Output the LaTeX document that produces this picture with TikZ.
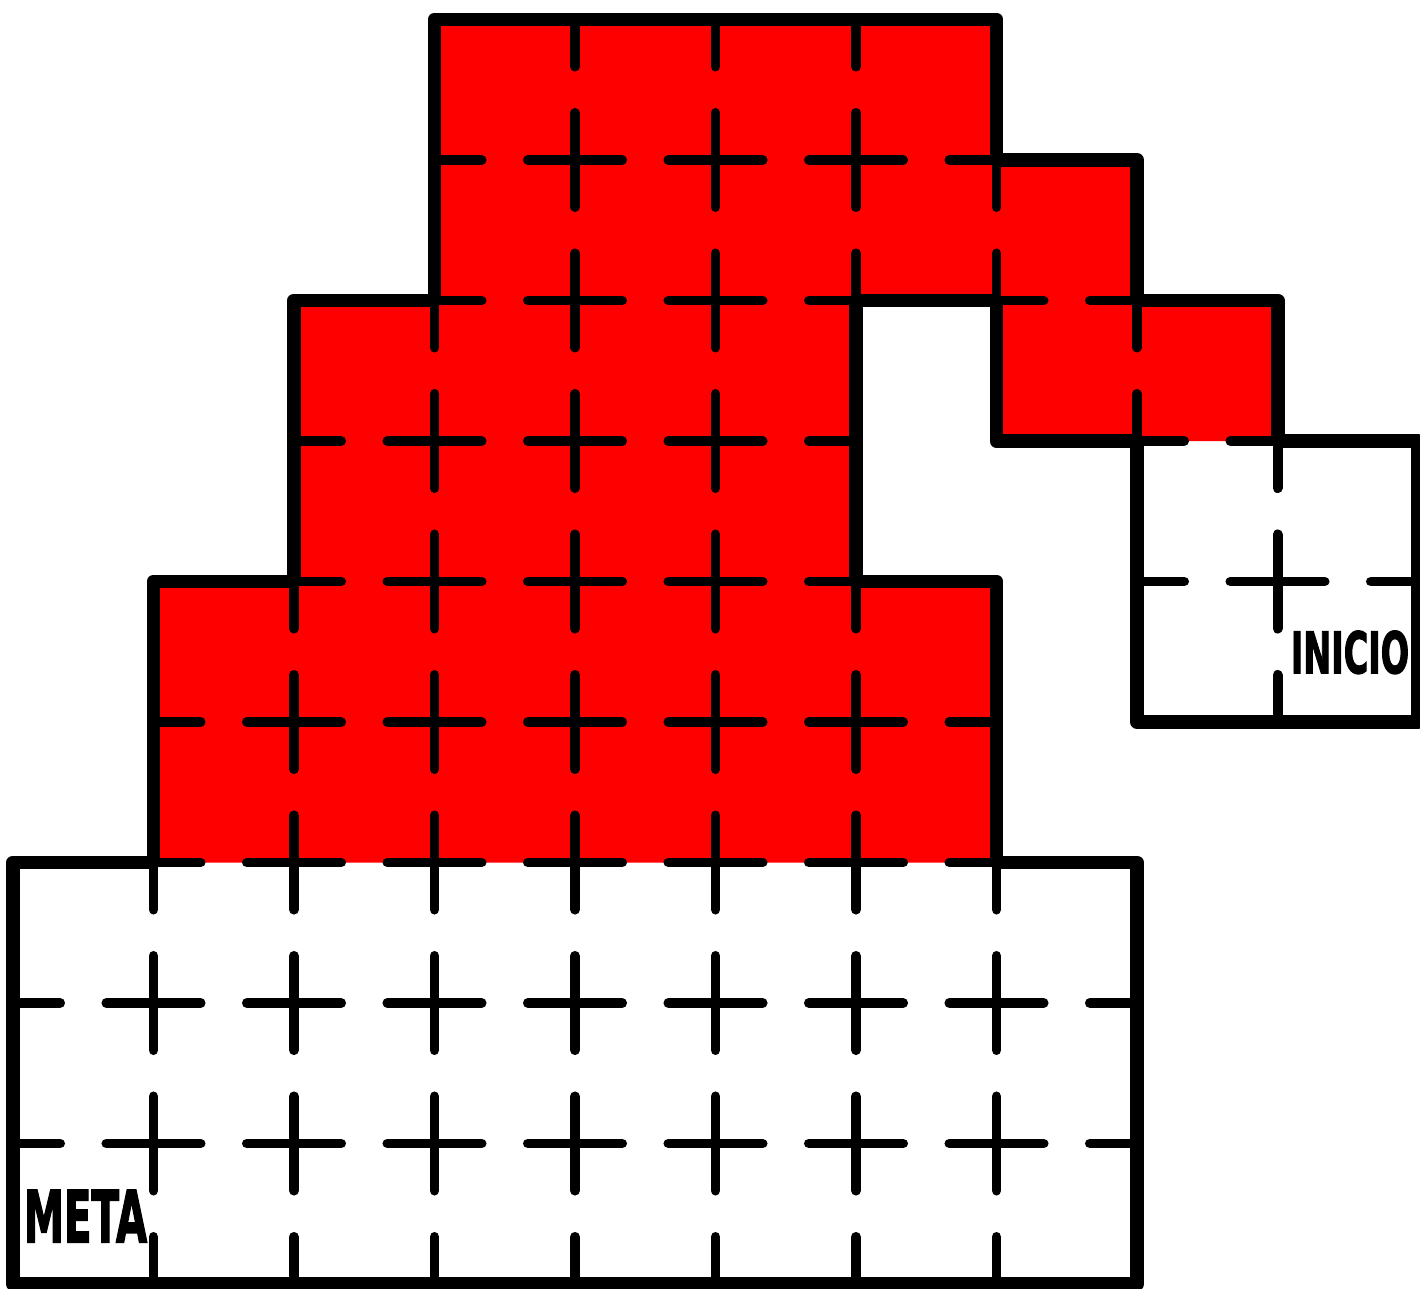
\documentclass[tikz,border=0pt]{standalone}
\usepackage{graphicx}
\usepackage{fontspec}
\newfontface\labfont{DejaVu Sans Bold}[FakeBold=2.5]
\begin{document}
\begin{tikzpicture}[x=1cm,y=-1cm,
  gridln/.style={line width=2.02pt,line cap=round},
  border/.style={line width=2.83pt,line join=round,line cap=round},
  lab/.style={inner sep=0pt,outer sep=0pt}]
\useasboundingbox (-0.0925,-0.1388) rectangle (10.0142,9.0356);
\fill[red] (3,0) -- (7,0) -- (7,1) -- (8,1) -- (8,2) -- (9,2) -- (9,3) -- (7,3) -- (7,2) -- (6,2) -- (6,4) -- (7,4) -- (7,6) -- (1,6) -- (1,4) -- (2,4) -- (2,2) -- (3,2) -- cycle;
\def\a{0.335}
\foreach \y/\xs in {0/{4,5,6},1/{4,5,6,7},2/{3,4,5,8},3/{3,4,5,9},4/{2,3,4,5,6,9},5/{2,3,4,5,6},6/{1,...,7},7/{1,...,7},8/{1,...,7}} {
  \foreach \x in \xs {
    \draw[gridln] (\x,\y) -- ++(0,\a);
    \draw[gridln] (\x,\y+1) -- ++(0,-\a);
  }
}
\foreach \y/\xs in {1/{3,4,5,6},2/{3,4,5,7},3/{2,3,4,5,8},4/{2,3,4,5,8,9},5/{1,...,6},6/{1,...,6},7/{0,...,7},8/{0,...,7}} {
  \foreach \x in \xs {
    \draw[gridln] (\x,\y) -- ++(\a,0);
    \draw[gridln] (\x+1,\y) -- ++(-\a,0);
  }
}
\draw[border] (3,0) -- (7,0) -- (7,1) -- (8,1) -- (8,2) -- (9,2) -- (9,3) -- (10,3) -- (10,5) -- (8,5) -- (8,3) -- (7,3) -- (7,2) -- (6,2) -- (6,4) -- (7,4) -- (7,6) -- (8,6) -- (8,9) -- (0,9) -- (0,6) -- (1,6) -- (1,4) -- (2,4) -- (2,2) -- (3,2) -- cycle;
\node[lab,anchor=south west] (inicio) at (9.095,4.658) {\resizebox{0.842cm}{0.302cm}{\labfont INICIO}};
\node[lab,anchor=south west] (meta) at (0.077,8.703) {\resizebox{0.878cm}{0.372cm}{\labfont META}};
\end{tikzpicture}
\end{document}
